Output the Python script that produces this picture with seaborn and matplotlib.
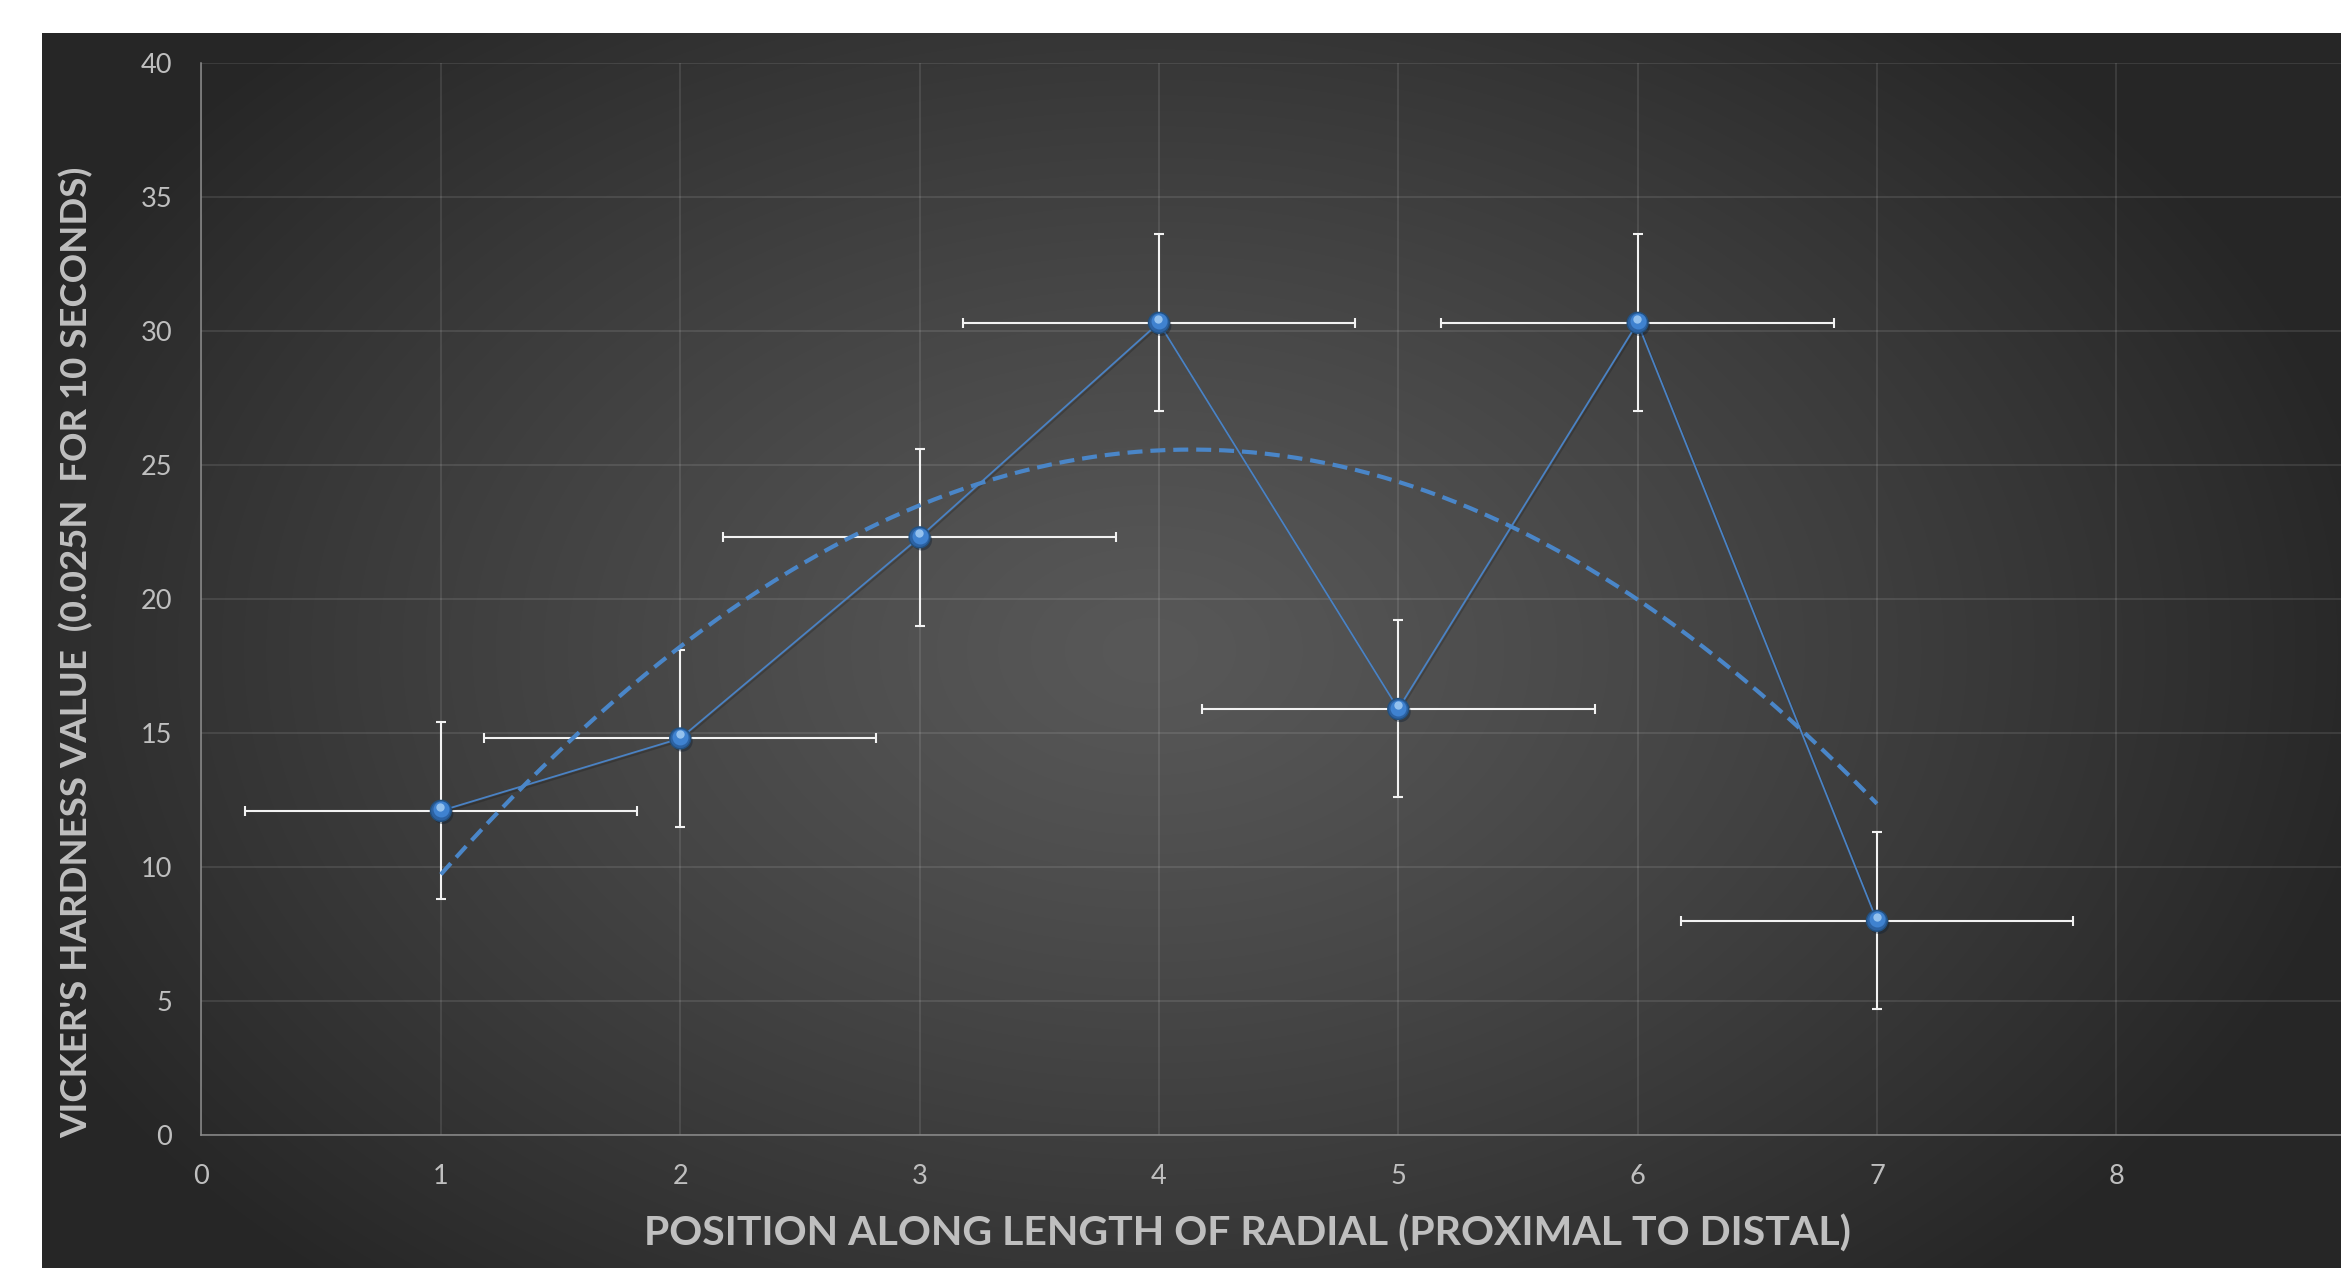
import numpy as np
import pandas as pd
import matplotlib
matplotlib.use("Agg")
import matplotlib.pyplot as plt
import matplotlib.patheffects as pe
import matplotlib.transforms as mtransforms
import seaborn as sns

# Measurement positions and hardness values
positions = [1, 2, 3, 4, 5, 6, 7]
hardness = [12.1, 14.8, 22.3, 30.3, 15.9, 30.3, 8.0]
hardness_err = [3.3, 3.3, 3.3, 3.3, 3.3, 3.3, 3.3]
position_err = [0.82, 0.82, 0.82, 0.82, 0.82, 0.82, 0.82]

x_ticks = [0, 1, 2, 3, 4, 5, 6, 7, 8]
y_ticks = [0, 5, 10, 15, 20, 25, 30, 35, 40]

x_title = "POSITION ALONG LENGTH OF RADIAL (PROXIMAL TO DISTAL)"
y_title = "VICKER'S HARDNESS VALUE  (0.025N  FOR 10 SECONDS)"

df = pd.DataFrame({"position": positions, "hardness": hardness})

sns.set_theme(style="dark")
plt.rcParams["font.family"] = ["Lato", "DejaVu Sans"]

W, H, DPI = 2341, 1268, 100
fig = plt.figure(figsize=(W / DPI, H / DPI), dpi=DPI, facecolor="white")

# dark chart area with a soft radial gradient
panel_left, panel_top = 42, 33
bg = fig.add_axes([panel_left / W, 0, 1 - panel_left / W, 1 - panel_top / H], zorder=0)
gx = np.arange(panel_left, W)
gy = np.arange(panel_top, H)
GX, GY = np.meshgrid(gx, gy)
r = np.sqrt(((GX - 1150) / 1250.0) ** 2 + ((GY - 650) / 850.0) ** 2)
t = np.clip(r, 0, 1) ** 1.2
level = (0x58 + (0x26 - 0x58) * t) / 255.0
img = np.dstack([level, level, level])
bg.imshow(img, aspect="auto", interpolation="bilinear")
bg.set_axis_off()

# plotting axes
ax_left = 201.5 / W
ax_bottom = 1 - 1135.3 / H
ax_h = (1135.3 - 62.7) / H
ax_w = 9 * 239.35 / W
ax = fig.add_axes([ax_left, ax_bottom, ax_w, ax_h], zorder=1)
ax.set_facecolor("none")
ax.patch.set_alpha(0)

ax.set_xlim(0, 9)
ax.set_ylim(0, 40)
ax.set_xticks(x_ticks)
ax.set_yticks(y_ticks)
ax.grid(True, color="white", alpha=0.13, linewidth=1.1)
ax.set_axisbelow(True)
for side in ["top", "right"]:
    ax.spines[side].set_visible(False)
for side in ["left", "bottom"]:
    ax.spines[side].set_color("#8c8c8c")
    ax.spines[side].set_linewidth(1.1)

tick_color = "#bfbfbf"
ax.tick_params(axis="both", length=0, colors=tick_color, labelsize=19.5)
ax.tick_params(axis="x", pad=21)
ax.tick_params(axis="y", pad=21)

# error bars
ax.errorbar(positions, hardness, yerr=hardness_err, xerr=position_err,
            fmt="none", ecolor="#f2f2f2", elinewidth=1.5, capsize=3.6,
            capthick=1.5, zorder=3)

# connecting line with a faint shadow
shadow = [pe.SimpleLineShadow(offset=(1.0, -1.5), shadow_color="black", alpha=0.18), pe.Normal()]
sns.lineplot(data=df, x="position", y="hardness", ax=ax, color="#4a82c4",
             linewidth=1.3, zorder=4, path_effects=shadow, legend=False)

# second-order polynomial trendline
sns.regplot(data=df, x="position", y="hardness", ax=ax, order=2, ci=None,
            scatter=False, truncate=True,
            line_kws=dict(color="#4a86c8", linewidth=3.0, dashes=(3.6, 1.9),
                          zorder=5))

# spherical markers
ax.plot(positions, hardness, "o", ms=15, mfc="#2c62a3", mec="#22507f",
        mew=1.0, zorder=6,
        path_effects=[pe.SimplePatchShadow(offset=(1.5, -2), alpha=0.4), pe.Normal()])
ax.plot(positions, hardness, "o", ms=11.5, mfc="#3f82d0", mec="none", zorder=7,
        transform=mtransforms.offset_copy(ax.transData, fig=fig, x=0, y=1.0, units="points"))
hl = mtransforms.offset_copy(ax.transData, fig=fig, x=-0.3, y=3.0, units="points")
ax.plot(positions, hardness, "o", ms=6, mfc="#a3cdf4", mec="none", alpha=0.85,
        transform=hl, zorder=8)

# axis titles
ax.set_xlabel(x_title, fontsize=29.5, fontweight="bold", color=tick_color)
ax.set_ylabel(y_title, fontsize=26.4, fontweight="bold", color=tick_color)
ax.xaxis.label.set_va("center")
ax.yaxis.label.set_va("center")
ax.xaxis.set_label_coords(1247.6 / W, 1 - 1234 / H, transform=fig.transFigure)
ax.yaxis.set_label_coords(76.5 / W, 1 - 652 / H, transform=fig.transFigure)

fig.savefig("out.png", dpi=DPI, facecolor="white")
